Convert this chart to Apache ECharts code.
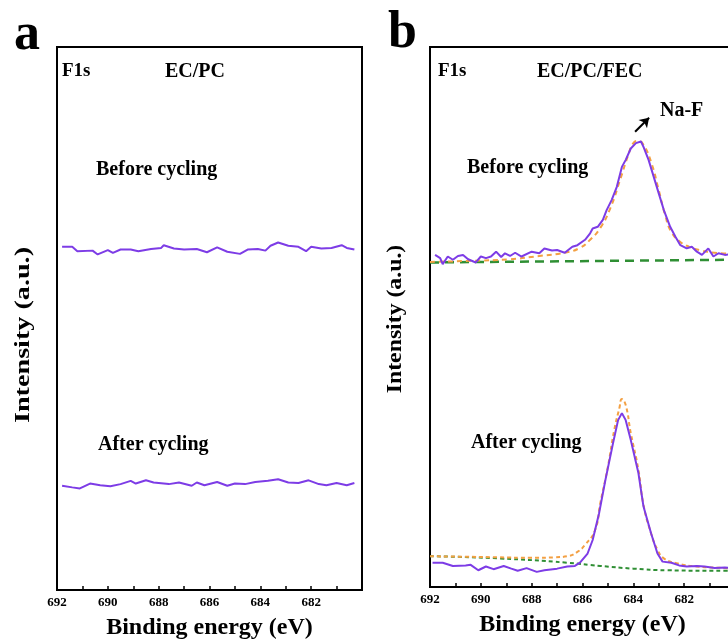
<!DOCTYPE html>
<html>
<head>
<meta charset="utf-8">
<script src="https://cdn.jsdelivr.net/npm/echarts@6/dist/echarts.min.js"></script>
<style>
  html, body { margin: 0; padding: 0; background: #fff; }
  #chart { width: 728px; height: 642px; }
</style>
</head>
<body>
<div id="chart"></div>
<script>
// binding energy (eV) / intensity (a.u., 0-100)
const xTicks = [692, 690, 688, 686, 684, 682]

// panel a, EC/PC
const aBeforeE = [691.8, 691.4, 691.2, 690.6, 690.4, 690.0, 689.8, 689.5, 689.1, 688.8, 688.3, 687.9, 687.8, 687.4, 687.0, 686.5, 686.1, 685.7, 685.3, 684.8, 684.5, 684.1, 683.8, 683.6, 683.3, 682.9, 682.5, 682.2, 682.0, 681.6, 681.2, 680.8, 680.6, 680.3]
const aBeforeI = [63.2, 63.2, 62.4, 62.5, 61.8, 62.6, 62.1, 62.7, 62.7, 62.4, 62.8, 63.0, 63.5, 62.9, 62.7, 62.8, 62.2, 63.1, 62.3, 61.9, 62.7, 62.8, 62.5, 63.4, 64.0, 63.4, 63.2, 62.4, 63.2, 62.9, 63.0, 63.5, 63.0, 62.7]
const aAfterE = [691.8, 691.4, 691.1, 690.7, 690.3, 689.9, 689.5, 689.1, 688.9, 688.5, 688.2, 687.6, 687.2, 686.7, 686.5, 686.2, 685.7, 685.3, 685.0, 684.6, 684.2, 683.7, 683.3, 682.9, 682.5, 682.1, 681.7, 681.4, 681.0, 680.6, 680.3]
const aAfterI = [19.2, 18.9, 18.7, 19.6, 19.3, 19.1, 19.5, 20.1, 19.6, 20.2, 19.8, 19.5, 19.8, 19.2, 19.8, 19.3, 19.9, 19.2, 19.6, 19.5, 19.9, 20.1, 20.4, 19.8, 19.7, 20.2, 19.5, 19.3, 19.7, 19.3, 19.7]

// panel b, EC/PC/FEC
const bBeforeE = [691.8, 691.6, 691.5, 691.3, 691.1, 690.9, 690.7, 690.5, 690.2, 690.0, 689.8, 689.6, 689.4, 689.2, 689.05, 688.85, 688.65, 688.4, 688.0, 687.7, 687.5, 687.2, 687.0, 686.7, 686.4, 686.2, 685.9, 685.7, 685.6, 685.4, 685.2, 685.05, 684.85, 684.65, 684.45, 684.3, 684.1, 683.9, 683.7, 683.6, 683.4, 683.2, 683.0, 682.8, 682.55, 682.35, 682.15, 681.9, 681.7, 681.5, 681.3, 681.05, 680.85, 680.65, 680.4, 680.0]
const bBeforeI = [61.5, 60.9, 59.8, 61.2, 60.6, 61.3, 61.5, 60.7, 60.1, 61.2, 60.9, 61.2, 62.1, 61.1, 61.8, 61.3, 61.9, 61.2, 62.1, 61.8, 62.7, 62.3, 62.4, 61.9, 63.0, 63.3, 64.3, 65.5, 66.4, 66.7, 68.0, 69.8, 71.7, 74.1, 77.8, 79.1, 81.2, 82.2, 82.5, 81.5, 79.1, 76.0, 72.9, 69.8, 66.7, 64.9, 63.3, 62.7, 63.0, 62.1, 61.5, 62.7, 61.2, 61.8, 61.5, 61.7]
const bBeforeFitE = [692.0, 690.4, 688.85, 687.7, 686.7, 686.1, 685.7, 685.3, 684.9, 684.5, 684.2, 684.0, 683.8, 683.6, 683.3, 683.0, 682.75, 682.5, 682.15, 681.8, 681.4, 680.8, 680.0]
const bBeforeFitI = [60.2, 60.4, 60.7, 61.3, 61.9, 62.8, 64.3, 66.5, 70.2, 75.7, 80.0, 82.2, 82.6, 81.9, 78.7, 73.5, 68.9, 65.7, 63.9, 63.0, 62.4, 61.9, 61.7]
const bBeforeBgE = [692.0, 680.0]
const bBeforeBgI = [60.1, 60.6]

const bAfterE = [691.9, 691.5, 691.1, 690.6, 690.4, 690.1, 689.8, 689.5, 689.1, 688.8, 688.55, 688.2, 687.8, 687.5, 687.0, 686.6, 686.3, 686.1, 685.8, 685.6, 685.35, 685.1, 684.8, 684.6, 684.45, 684.3, 684.1, 683.8, 683.6, 683.3, 683.05, 682.85, 682.5, 682.2, 681.9, 681.5, 681.2, 680.8, 680.4, 680.0]
const bAfterI = [4.5, 4.5, 3.9, 4.0, 4.1, 3.1, 3.8, 3.3, 3.9, 3.4, 3.0, 3.5, 2.8, 3.1, 3.4, 3.8, 3.9, 4.5, 6.2, 8.7, 13.6, 19.8, 26.6, 30.9, 32.2, 30.9, 27.2, 21.1, 14.9, 9.9, 6.2, 4.7, 4.5, 4.0, 3.8, 3.9, 3.8, 3.5, 3.6, 3.5]
const bAfterFitE = [692.0, 690.6, 689.35, 688.0, 687.1, 686.6, 686.2, 685.9, 685.5, 685.3, 685.0, 684.75, 684.55, 684.45, 684.3, 684.1, 683.8, 683.6, 683.3, 683.05, 682.8, 682.3, 681.5, 680.4, 680.0]
const bAfterFitI = [5.7, 5.6, 5.5, 5.4, 5.5, 5.7, 6.5, 7.8, 10.6, 15.5, 22.3, 29.1, 33.1, 34.8, 33.7, 28.5, 21.7, 15.2, 9.9, 6.9, 5.3, 4.4, 3.8, 3.5, 3.4]
const bAfterBgE = [692.0, 689.3, 686.6, 685.3, 684.0, 682.7, 680.4, 680.0]
const bAfterBgI = [5.7, 5.3, 4.5, 3.9, 3.4, 3.1, 3.0, 3.0]

const arrowFrom = [683.93, 84.3]
const arrowTo = [683.38, 86.9]

const serif = 'Liberation Serif'
const purple = '#7d3ce6'
const orange = '#f3a043'
const green = '#2f8f34'

const zip = (xs, ys) => xs.map((x, i) => [x, ys[i]])

const makeX = (gridIndex) => ({
    type: 'value',
    gridIndex: gridIndex,
    min: 680,
    max: 692,
    interval: 1,
    inverse: true,
    name: 'Binding energy (eV)',
    nameLocation: 'middle',
    nameGap: 26,
    nameTextStyle: {fontFamily: serif, fontWeight: 'bold', fontSize: 24, color: '#000'},
    axisLine: {lineStyle: {color: '#000', width: 2}},
    axisTick: {inside: true, length: 4, lineStyle: {color: '#000', width: 1.5}},
    axisLabel: {
        margin: 6,
        fontFamily: serif, fontWeight: 'bold', fontSize: 13, color: '#000',
        formatter: (v) => xTicks.includes(v) ? String(v) : ''
    },
    splitLine: {show: false}
})

const makeY = (gridIndex) => ({
    type: 'value',
    gridIndex: gridIndex,
    min: 0,
    max: 100,
    axisLine: {show: true, lineStyle: {color: '#000', width: 2}},
    axisTick: {show: false},
    axisLabel: {show: false},
    splitLine: {show: false}
})

const line = (xi, data, color, opts) => Object.assign({
    type: 'line',
    xAxisIndex: xi,
    yAxisIndex: xi,
    data: data,
    showSymbol: false,
    symbol: 'none',
    silent: true,
    lineStyle: {color: color, width: 2}
}, opts || {})

const text = (x, y, str, size, extra) => Object.assign({
    type: 'text',
    x: x,
    y: y,
    style: {
        text: str,
        fontFamily: serif,
        fontWeight: 'bold',
        fontSize: size,
        fill: '#000',
        align: 'left',
        verticalAlign: 'middle'
    }
}, extra || {})

// the y titles are drawn stretched along their length in the original
const yTitle = (x, y, stretch) => ({
    type: 'text',
    x: x,
    y: y,
    rotation: Math.PI / 2,
    scaleX: stretch,
    style: {
        text: 'Intensity (a.u.)',
        fontFamily: serif,
        fontWeight: 'bold',
        fontSize: 22,
        fill: '#000',
        align: 'center',
        verticalAlign: 'middle'
    }
})

const option = {
    animation: false,
    backgroundColor: '#fff',
    grid: [
        {left: 57, top: 47, width: 305, bottom: 52, outerBoundsMode: 'none', show: true, borderColor: '#000', borderWidth: 2},
        {left: 430, top: 47, width: 305, bottom: 55, outerBoundsMode: 'none', show: true, borderColor: '#000', borderWidth: 2}
    ],
    xAxis: [makeX(0), makeX(1)],
    yAxis: [makeY(0), makeY(1)],
    series: [
        line(0, zip(aBeforeE, aBeforeI), purple),
        line(0, zip(aAfterE, aAfterI), purple),
        line(1, zip(bBeforeBgE, bBeforeBgI), green, {lineStyle: {color: green, width: 2.5, type: [9, 6]}}),
        line(1, zip(bBeforeFitE, bBeforeFitI), orange, {smooth: true, lineStyle: {color: orange, width: 2, type: [5, 4]}}),
        line(1, zip(bBeforeE, bBeforeI), purple, {
            markLine: {
                silent: true,
                symbol: ['none', 'arrow'],
                symbolSize: 9,
                label: {show: false},
                lineStyle: {color: '#000', width: 2, type: 'solid'},
                data: [[{coord: arrowFrom}, {coord: arrowTo}]]
            }
        }),
        line(1, zip(bAfterBgE, bAfterBgI), green, {smooth: true, lineStyle: {color: green, width: 2, type: [4, 3]}}),
        line(1, zip(bAfterFitE, bAfterFitI), orange, {smooth: true, lineStyle: {color: orange, width: 2, type: [4, 3]}}),
        line(1, zip(bAfterE, bAfterI), purple)
    ],
    graphic: [
        text(14, 36, 'a', 52),
        text(388, 34, 'b', 52),
        yTitle(23, 335, 1.28),
        yTitle(395, 319, 1.08),
        text(62, 71, 'F1s', 19),
        text(165, 72, 'EC/PC', 20),
        text(96, 170, 'Before cycling', 20),
        text(98, 445, 'After cycling', 20),
        text(438, 71, 'F1s', 19),
        text(537, 72, 'EC/PC/FEC', 20),
        text(660, 111, 'Na-F', 20),
        text(467, 168, 'Before cycling', 20),
        text(471, 443, 'After cycling', 20)
    ]
}

const chart = echarts.init(document.getElementById('chart'))
chart.setOption(option)
</script>
</body>
</html>
